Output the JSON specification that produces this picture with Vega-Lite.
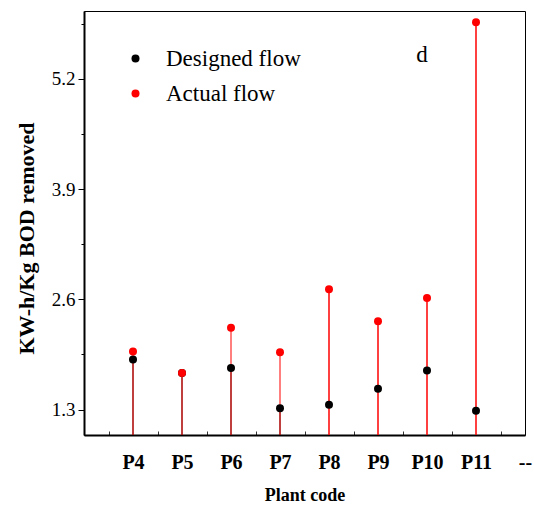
{
  "$schema": "https://vega.github.io/schema/vega-lite/v6.json",
  "autosize": "none",
  "width": 441,
  "height": 424,
  "padding": {"left": 84, "top": 11, "right": 9, "bottom": 74},
  "background": "white",
  "config": {
    "view": {"stroke": "black", "strokeWidth": 1},
    "font": "Liberation Serif",
    "axis": {"grid": false, "domainColor": "black", "domainWidth": 2, "tickColor": "black", "labelColor": "black", "titleColor": "black", "labelFont": "Liberation Serif", "titleFont": "Liberation Serif"}
  },
  "data": {
    "values": [
      {"plant": "P4", "flow": "Designed flow", "value": 1.89},
      {"plant": "P5", "flow": "Designed flow", "value": 1.73},
      {"plant": "P6", "flow": "Designed flow", "value": 1.79},
      {"plant": "P7", "flow": "Designed flow", "value": 1.315},
      {"plant": "P8", "flow": "Designed flow", "value": 1.356},
      {"plant": "P9", "flow": "Designed flow", "value": 1.545},
      {"plant": "P10", "flow": "Designed flow", "value": 1.761},
      {"plant": "P11", "flow": "Designed flow", "value": 1.285},
      {"plant": "P4", "flow": "Actual flow", "value": 1.985},
      {"plant": "P5", "flow": "Actual flow", "value": 1.73},
      {"plant": "P6", "flow": "Actual flow", "value": 2.266},
      {"plant": "P7", "flow": "Actual flow", "value": 1.977},
      {"plant": "P8", "flow": "Actual flow", "value": 2.718},
      {"plant": "P9", "flow": "Actual flow", "value": 2.34},
      {"plant": "P10", "flow": "Actual flow", "value": 2.616},
      {"plant": "P11", "flow": "Actual flow", "value": 5.866}
    ]
  },
  "encoding": {
    "x": {
      "field": "plant",
      "type": "ordinal",
      "scale": {"type": "point", "domain": [" ", "P4", "P5", "P6", "P7", "P8", "P9", "P10", "P11", "--"], "padding": 0},
      "axis": {
        "title": "Plant code",
        "titleFontSize": 18,
        "titleFontWeight": "bold",
        "titleY": 60,
        "titleBaseline": "middle",
        "labelAngle": 0,
        "labelFontSize": 20,
        "labelFontWeight": "bold",
        "labelPadding": 21,
        "labelOffset": -24.5,
        "labelOverlap": false,
        "tickOffset": 24.5,
        "tickSize": -4,
        "tickWidth": 1,
        "tickColor": {"condition": {"test": "datum.value == '--'", "value": "transparent"}, "value": "#333"}
      }
    },
    "y": {
      "field": "value",
      "type": "quantitative",
      "scale": {"domain": [1.0, 6.0], "nice": false, "zero": false},
      "axis": {
        "title": "KW-h/Kg BOD removed",
        "titleFontSize": 22,
        "titleFontWeight": "bold",
        "titleX": -58,
        "titleY": 227,
        "titleBaseline": "middle",
        "values": [1.3, 1.95, 2.6, 3.25, 3.9, 4.55, 5.2, 5.85],
        "labelExpr": "abs(datum.value/1.3 - round(datum.value/1.3)) < 0.01 ? format(datum.value, '.1f') : ''",
        "labelFontSize": 19,
        "labelPadding": 3,
        "tickSize": {"condition": {"test": "abs(datum.value/1.3 - round(datum.value/1.3)) < 0.01", "value": 6}, "value": 3},
        "tickWidth": 1
      }
    }
  },
  "layer": [
    {
      "transform": [{"filter": "datum.flow == 'Designed flow' && indexof(['P4','P5','P6','P7'], datum.plant) >= 0"}],
      "mark": {"type": "rule", "color": "black", "opacity": 0.5, "strokeWidth": 2},
      "encoding": {"y2": {"datum": 1.0}}
    },
    {
      "transform": [{"filter": "datum.flow == 'Actual flow'"}],
      "mark": {"type": "rule", "color": "red"},
      "encoding": {
        "y2": {"datum": 1.0},
        "opacity": {"condition": {"test": "indexof(['P4','P5','P6','P7'], datum.plant) >= 0", "value": 0.5}, "value": 1},
        "strokeWidth": {"condition": {"test": "indexof(['P4','P5','P6','P7'], datum.plant) >= 0", "value": 2}, "value": 1.5}
      }
    },
    {
      "mark": {"type": "point", "filled": true, "opacity": 1, "size": 64, "shape": "circle"},
      "encoding": {
        "color": {
          "field": "flow",
          "type": "nominal",
          "scale": {"domain": ["Designed flow", "Actual flow"], "range": ["black", "red"]},
          "legend": {
            "title": null,
            "orient": "none",
            "legendX": 40,
            "legendY": 36,
            "padding": 0,
            "labelFont": "Liberation Serif",
            "labelFontSize": 23,
            "labelColor": "black",
            "labelOffset": 19,
            "rowPadding": 11,
            "symbolSize": 64,
            "symbolType": "circle",
            "symbolStrokeWidth": 0
          }
        }
      }
    },
    {
      "transform": [{"filter": "datum.plant == 'P10' && datum.flow == 'Actual flow'"}],
      "mark": {"type": "text", "text": "d", "font": "Liberation Serif", "fontSize": 23, "color": "black", "baseline": "middle", "align": "center", "dx": -5},
      "encoding": {
        "y": {"datum": 5.48, "type": "quantitative"}
      }
    }
  ]
}
